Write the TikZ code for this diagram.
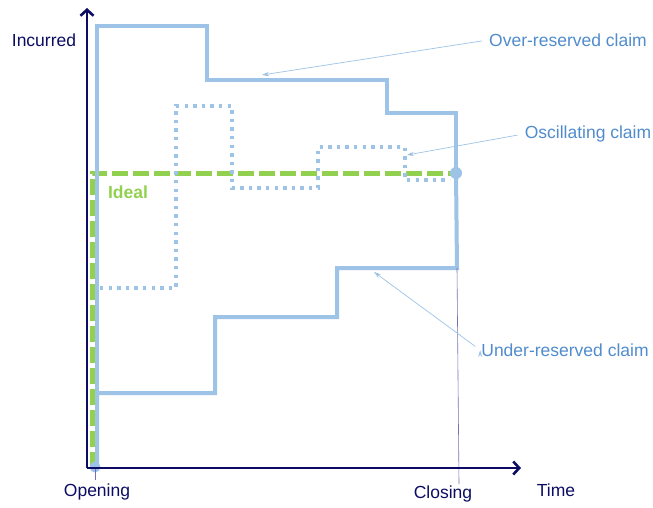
\documentclass[tikz,border=0pt]{standalone}
\usepackage{fontspec}
\setmainfont{Liberation Sans}
\usetikzlibrary{arrows.meta,positioning}
\definecolor{axisnavy}{RGB}{12,12,100}
\definecolor{claimblue}{RGB}{157,195,230}
\definecolor{labelblue}{RGB}{80,140,205}
\definecolor{idealgreen}{RGB}{146,208,80}
\definecolor{tickpurple}{RGB}{120,112,180}

\begin{document}
\begin{tikzpicture}[x=1pt,y=-1pt,font=\fontsize{17.5}{21}\selectfont,
  axis/.style={draw=axisnavy,line width=2.8pt,-{Straight Barb[length=6pt,width=13pt,line width=2.6pt]}},
  claim/.style={draw=claimblue,line width=4pt,line join=miter},
  oscil/.style={draw=claimblue,line width=3.8pt,dash pattern=on 3.4pt off 5.2pt},
  ideal/.style={draw=idealgreen,line width=5pt,dash pattern=on 16pt off 5pt},
  leader/.style={draw=claimblue,line width=0.7pt,shorten <=6pt,-{Stealth[length=7pt,width=4pt]}},
  tick/.style={draw=tickpurple,line width=0.6pt},
  caption/.style={text=labelblue,inner sep=1pt},
  axislabel/.style={text=axisnavy,inner sep=1pt}]
\useasboundingbox (0,0) rectangle (653,508);

% define the points of the axes
  \coordinate (origin) at (87,468);
  \coordinate (ytip)   at (87,8);
  \coordinate (xtip)   at (521,468);
  \coordinate (open)   at (95,467);
  \coordinate (close)  at (456,173);

% define the labels
  \node[axislabel] (incurred) at (44,40)  {Incurred};
  \node[axislabel] (time)     at (556,490) {Time};
  \node[axislabel] (opening)  at (97,492) {Opening};
  \node[axislabel] (closing)  at (443,494) {Closing};
  \node[caption]   (over)  at (568,40)  {Over-reserved claim};
  \node[caption]   (oscl)  at (588,134) {Oscillating claim};
  \node[caption]   (under) at (565,350) {Under-reserved claim};
  \node[text=idealgreen,font=\fontsize{17.5}{21}\selectfont\bfseries,inner sep=1pt]
        (ideal) at (128,192) {Ideal};

% ideal claim
  \draw[ideal] (92,468) -- (92,173) -- (close);

% over-reserved claim
  \draw[claim] (97,468) -- (97,26) -- (207,26) -- (207,80) -- (387,80)
        -- (387,113) -- (456,113) -- (close);

% under-reserved claim
  \draw[claim] (97,468) -- (97,393) -- (215,393) -- (215,317) -- (337,317)
        -- (337,268) -- (457,268) -- (close);

% oscillating claim
  \draw[oscil] (100,288) -- (176,288) -- (176,106) -- (232,106) -- (232,188)
        -- (318,188) -- (318,147) -- (405,147) -- (405,180) -- (450,180);

% end points
  \fill[claimblue] (open) circle (5.5pt);
  \fill[claimblue] (close) circle (6pt);

% ticks for opening and closing
  \draw[tick] (open) -- (95,480);
  \draw[tick] (457,268) -- (459,484);

% axes
  \draw[axis] (origin) -- (ytip);
  \draw[axis] (origin) -- (xtip);

% leaders to the claims
  \coordinate (overend)  at (262,75);
  \coordinate (osclend)  at (407,155);
  \coordinate (underend) at (374,272);
  \path[leader] (over.west)  edge (overend)
                (oscl.west)  edge (osclend)
                (under.west) edge (underend);
\end{tikzpicture}
\end{document}
